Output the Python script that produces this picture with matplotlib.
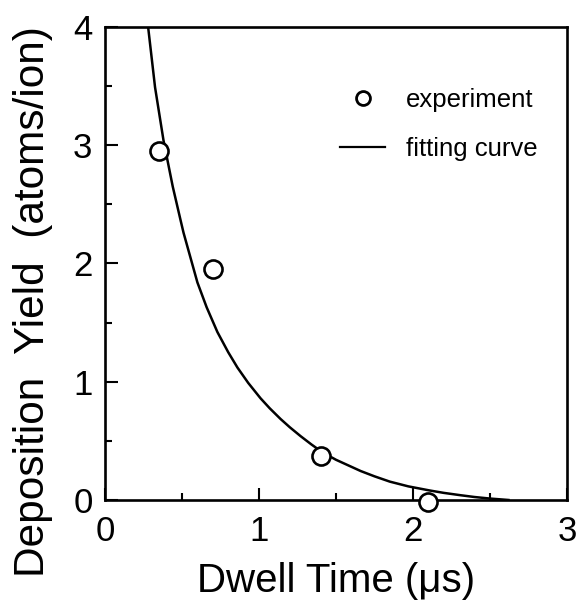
import numpy as np
import matplotlib
matplotlib.use("Agg")
import matplotlib.pyplot as plt
from matplotlib.lines import Line2D

# measured points
dwell_exp = [0.35, 0.70, 1.40, 2.10]
yield_exp = [2.95, 1.95, 0.37, -0.02]

# fitting curve
dwell_fit = [0.28, 0.325, 0.38, 0.44, 0.49, 0.51, 0.60, 0.66, 0.73, 0.80,
             0.86, 0.93, 1.01, 1.07, 1.14, 1.20, 1.27, 1.34, 1.41, 1.50,
             1.66, 1.75, 1.85, 1.97, 2.11, 2.20, 2.31, 2.40, 2.50, 2.62]
yield_fit = [4.0, 3.49, 3.04, 2.65, 2.37, 2.26, 1.84, 1.63, 1.42, 1.25,
             1.12, 0.99, 0.86, 0.775, 0.685, 0.615, 0.54, 0.47, 0.405, 0.34,
             0.245, 0.20, 0.155, 0.115, 0.08, 0.06, 0.04, 0.025, 0.012, 0.0]

font = ['Liberation Sans', 'DejaVu Sans']

fig = plt.figure(figsize=(5.76, 6.05), dpi=100)
ax = fig.add_axes([0.1823, 0.1736, 0.802, 0.7818])

ax.plot(dwell_fit, yield_fit, 'k-', lw=1.8, zorder=2)
ax.plot(dwell_exp, yield_exp, 'o', ms=13, mfc='white', mec='black',
        mew=1.9, clip_on=False, zorder=3)

ax.set_xlim(0, 3)
ax.set_ylim(0, 4)
ax.set_xticks([0, 1, 2, 3])
ax.set_yticks([0, 1, 2, 3, 4])
ax.set_xticks(np.arange(0.5, 3, 1), minor=True)
ax.set_yticks(np.arange(0.5, 4, 1), minor=True)
ax.tick_params(which='major', direction='in', length=9, width=1.5)
ax.tick_params(axis='x', which='major', pad=11)
ax.tick_params(axis='y', which='major', pad=9)
ax.tick_params(which='minor', direction='in', length=5, width=1.5)
for s in ax.spines.values():
    s.set_linewidth(1.9)

for lab in ax.get_xticklabels() + ax.get_yticklabels():
    lab.set_family(font)
    lab.set_fontsize(25)

ax.set_xlabel("Dwell Time (μs)", family=font, fontsize=29, labelpad=10)
ax.set_ylabel("Deposition  Yield  (atoms/ion)", family=font, fontsize=30.5)
ax.yaxis.set_label_coords(-0.112, 0.42)

handles = [Line2D([], [], ls='none', marker='o', ms=10, mfc='white',
                  mec='black', mew=2),
           Line2D([], [], color='black', lw=1.6)]
ax.legend(handles, ['experiment', 'fitting curve'], loc='upper left',
          bbox_to_anchor=(0.509, 0.870), frameon=False, borderpad=0,
          borderaxespad=0, handlelength=1.75, handletextpad=0.8,
          labelspacing=0.95, prop={'family': font, 'size': 18.5})

fig.savefig("out.png", dpi=100)
